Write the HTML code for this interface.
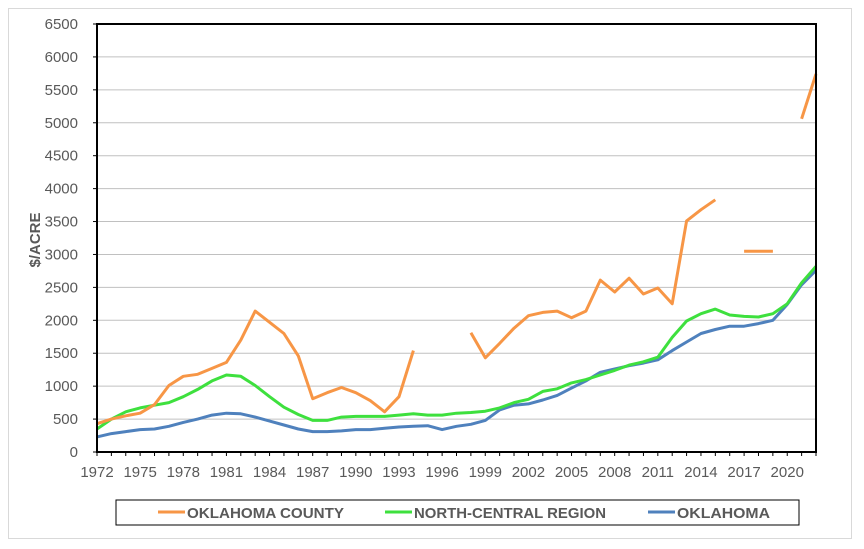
<!DOCTYPE html>
<html><head><meta charset="utf-8"><style>
html,body{margin:0;padding:0;background:#fff;}
svg{display:block;font-family:"Liberation Sans",sans-serif;}
</style></head><body>
<svg id="s" width="864" height="549" viewBox="0 0 864 549" xmlns="http://www.w3.org/2000/svg">
<rect x="8.5" y="8.5" width="843" height="530" fill="#fff" stroke="#d9d9d9"/>
<g id="grid"></g>
<g id="lines"></g>
<rect x="97" y="24" width="719" height="428" fill="none" stroke="#000" stroke-width="2"/>
<text transform="translate(40,240) rotate(-90)" text-anchor="middle" font-size="15" font-weight="bold" fill="#595959">$/ACRE</text>
<rect x="116" y="500" width="683" height="25" fill="none" stroke="#000" stroke-width="1"/>
<line x1="158" y1="512" x2="185" y2="512" stroke="#f79646" stroke-width="3"/>
<text x="187" y="518" font-size="15" font-weight="bold" fill="#595959" textLength="157" lengthAdjust="spacingAndGlyphs">OKLAHOMA COUNTY</text>
<line x1="385" y1="512" x2="412" y2="512" stroke="#3ee03e" stroke-width="3"/>
<text x="414" y="518" font-size="15" font-weight="bold" fill="#595959" textLength="192" lengthAdjust="spacingAndGlyphs">NORTH-CENTRAL REGION</text>
<line x1="648" y1="512" x2="675" y2="512" stroke="#4f81bd" stroke-width="3"/>
<text x="677" y="518" font-size="15" font-weight="bold" fill="#595959" textLength="93" lengthAdjust="spacingAndGlyphs">OKLAHOMA</text>
</svg>
<script>
var NS="http://www.w3.org/2000/svg",s=document.getElementById('s');
var g=document.getElementById('grid'),L=document.getElementById('lines');
var x0=97,dx=(816-97)/50,y0=452,ys=428/6500;
function X(i){return x0+i*dx}function Y(v){return y0-v*ys}
function el(p,t,a,txt){var e=document.createElementNS(NS,t);for(var k in a)e.setAttribute(k,a[k]);if(txt)e.textContent=txt;p.appendChild(e);return e}
for(var v=0;v<=6500;v+=500){var y=Y(v);if(v>0&&v<6500)el(g,'line',{x1:97,x2:816,y1:y,y2:y,stroke:'#c0c0c0','stroke-width':1});
el(g,'text',{x:78,y:y+5,'text-anchor':'end','font-size':15,fill:'#595959'},String(v));el(g,'line',{x1:93,x2:97,y1:y,y2:y,stroke:'#000'});}
for(var i=0;i<=50;i+=3){el(g,'text',{x:X(i),y:477,'text-anchor':'middle','font-size':15,fill:'#595959'},String(1972+i));}
for(var i=0;i<=50;i++)el(g,'line',{x1:X(i),x2:X(i),y1:452,y2:456,stroke:'#000'});
var oc=[430,500,550,590,720,1010,1150,1180,1270,1360,1700,2140,1970,1800,1460,810,900,980,900,780,610,840,1540,null,null,null,1810,1430,1650,1880,2070,2120,2140,2040,2140,2610,2430,2640,2400,2490,2250,3510,3680,3830,null,3050,3050,3050,null,5060,5740];
var nc=[350,500,610,670,710,750,840,950,1080,1170,1150,1010,840,680,570,480,480,530,540,540,540,560,580,560,560,590,600,620,670,750,800,920,960,1050,1100,1170,1240,1320,1370,1440,1740,1990,2100,2170,2080,2060,2050,2100,2250,2570,2820];
var ok=[230,280,310,340,350,390,450,500,560,590,580,530,470,410,350,310,310,320,340,340,360,380,390,400,340,390,420,480,640,710,730,790,860,970,1080,1210,1260,1310,1350,1400,1540,1670,1800,1860,1910,1910,1950,2000,2240,2540,2760];
function draw(d,c){var seg=[];function flush(){if(seg.length>1)el(L,'polyline',{points:seg.join(' '),fill:'none',stroke:c,'stroke-width':3,'stroke-linejoin':'round'});seg=[]}
d.forEach(function(v,i){if(v==null)flush();else seg.push(X(i).toFixed(1)+','+Y(v).toFixed(1))});flush();}
draw(ok,'#4f81bd');draw(nc,'#3ee03e');draw(oc,'#f79646');
</script>
</body></html>
